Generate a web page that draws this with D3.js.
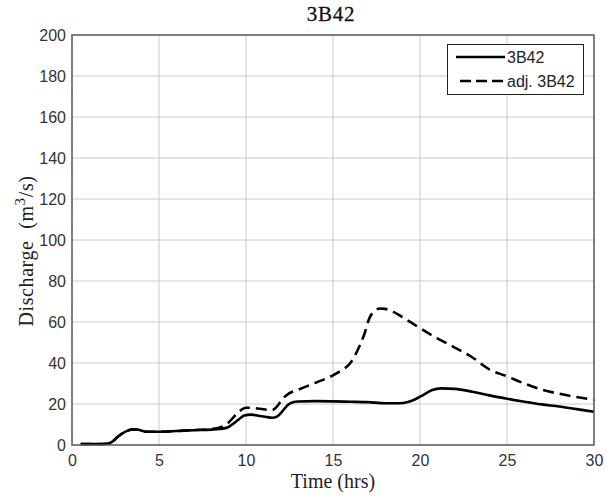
<!DOCTYPE html>
<html>
<head>
<meta charset="utf-8">
<script src="https://cdn.jsdelivr.net/npm/d3@7/dist/d3.min.js"></script>
<style>
  html, body { margin: 0; padding: 0; background: #fff; }
  svg { display: block; }
</style>
</head>
<body>
<svg id="chart" width="616" height="497"></svg>
<script>
// Simulated discharge hydrographs (m^3/s) at the outlet
const timeRaw = [0.5, 1, 1.5, 2, 2.3, 2.6, 2.9, 3.2, 3.5, 3.8, 4.3, 5, 6, 7, 8, 8.5, 9, 9.3, 9.6, 9.9,
  10.3, 10.7, 11.1, 11.5, 11.8, 12.1, 12.4, 12.7, 13, 14, 15, 16, 17, 18, 18.8, 19.3, 19.7, 20.2,
  20.7, 21.2, 22, 23, 24, 25, 26, 27, 28, 29, 30];
const flowRaw = [0.5, 0.5, 0.5, 0.6, 1.5, 3.8, 5.7, 7, 7.6, 7.4, 6.5, 6.5, 6.8, 7.2, 7.5, 7.8, 8.8, 10.6, 12.6, 14.4,
  14.8, 14.3, 13.8, 13.3, 14, 16.5, 19.5, 20.8, 21.2, 21.4, 21.3, 21.1, 20.9, 20.4, 20.4, 21, 22.2, 24.5,
  26.8, 27.6, 27.4, 26, 24.2, 22.6, 21.1, 19.8, 18.8, 17.5, 16.2];

const timeAdj = [0.5, 1, 1.5, 2, 2.3, 2.6, 2.9, 3.2, 3.5, 3.8, 4.3, 5, 6, 7, 8, 8.5, 9, 9.5, 10, 10.5,
  11, 11.5, 11.8, 12.1, 12.5, 13, 14, 15, 15.5, 16, 16.4, 16.8, 17.1, 17.4, 17.7, 18, 18.5, 19,
  20, 21, 22, 23, 24, 25, 26, 27, 28, 29, 30];
const flowAdj = [0.5, 0.5, 0.5, 0.6, 1.5, 3.8, 5.7, 7, 7.6, 7.4, 6.5, 6.5, 6.8, 7.3, 7.8, 8.5, 11, 15.5, 18.2, 18,
  17.4, 17, 19, 22.5, 25.3, 27, 30.4, 34, 36.5, 40, 46, 54, 62, 65.5, 66.6, 66.4, 64.8, 62.3,
  57, 52, 47.5, 42.8, 36.8, 33.5, 30, 27, 25, 23.4, 22];

const xTicks = [0, 5, 10, 15, 20, 25, 30];
const yTicks = [0, 20, 40, 60, 80, 100, 120, 140, 160, 180, 200];
const seriesNames = ["3B42", "adj. 3B42"];

const svg = d3.select("#chart");
const plot = { left: 72, right: 594, top: 35, bottom: 445 };

const x = d3.scaleLinear().domain([0, 30]).range([plot.left, plot.right]);
const y = d3.scaleLinear().domain([0, 200]).range([plot.bottom, plot.top]);

// grid
const grid = svg.append("g");
grid.selectAll("line.vx").data(xTicks.slice(1, -1)).join("line")
  .attr("x1", d => x(d)).attr("x2", d => x(d))
  .attr("y1", plot.top).attr("y2", plot.bottom)
  .attr("stroke", "#cacaca").attr("stroke-width", 1);
grid.selectAll("line.hy").data(yTicks.slice(1, -1)).join("line")
  .attr("y1", d => y(d)).attr("y2", d => y(d))
  .attr("x1", plot.left).attr("x2", plot.right)
  .attr("stroke", "#cacaca").attr("stroke-width", 1);

// tick labels via axes
const tickFont = "'Liberation Sans', Arial, sans-serif";
const xAxis = svg.append("g")
  .attr("transform", `translate(0,${plot.bottom})`)
  .call(d3.axisBottom(x).tickValues(xTicks).tickSize(0).tickPadding(9).tickFormat(d3.format("d")));
const yAxis = svg.append("g")
  .attr("transform", `translate(${plot.left},0)`)
  .call(d3.axisLeft(y).tickValues(yTicks).tickSize(0).tickPadding(6).tickFormat(d3.format("d")));
[xAxis, yAxis].forEach(a => {
  a.select(".domain").remove();
  a.selectAll("text").attr("font-family", tickFont).attr("font-size", 16).attr("fill", "#333");
});
xAxis.selectAll("text").attr("dy", "0.75em");

// lines
const line = d3.line().x(d => x(d[0])).y(d => y(d[1])).curve(d3.curveMonotoneX);
svg.append("path")
  .datum(d3.zip(timeAdj, flowAdj))
  .attr("d", line).attr("fill", "none")
  .attr("stroke", "#000").attr("stroke-width", 2.6)
  .attr("stroke-dasharray", "11,6");
svg.append("path")
  .datum(d3.zip(timeRaw, flowRaw))
  .attr("d", line).attr("fill", "none")
  .attr("stroke", "#000").attr("stroke-width", 2.6);

// frame
svg.append("rect")
  .attr("x", plot.left).attr("y", plot.top)
  .attr("width", plot.right - plot.left).attr("height", plot.bottom - plot.top)
  .attr("fill", "none").attr("stroke", "#555").attr("stroke-width", 1.5);

// legend
const lg = svg.append("g");
lg.append("rect").attr("x", 447.5).attr("y", 44.5).attr("width", 136).attr("height", 50)
  .attr("fill", "#fff").attr("stroke", "#222").attr("stroke-width", 1);
const legendRows = [{ y: 57, dash: null }, { y: 81, dash: "11,5" }];
legendRows.forEach((r, i) => {
  lg.append("line").attr("x1", i ? 460 : 456).attr("x2", 505).attr("y1", r.y).attr("y2", r.y)
    .attr("stroke", "#000").attr("stroke-width", 2.4)
    .attr("stroke-dasharray", r.dash);
  lg.append("text").attr("x", 507).attr("y", r.y + 6)
    .attr("font-family", tickFont).attr("font-size", 16).attr("fill", "#222")
    .text(seriesNames[i]);
});

// titles
const serif = "'Liberation Serif', 'Times New Roman', serif";
svg.append("text").attr("x", 331).attr("y", 21).attr("text-anchor", "middle")
  .attr("font-family", serif).attr("font-size", 21).attr("letter-spacing", 0.8)
  .attr("fill", "#111").attr("stroke", "#111").attr("stroke-width", 0.3)
  .text("3B42");
svg.append("text").attr("x", 333).attr("y", 488).attr("text-anchor", "middle")
  .attr("font-family", serif).attr("font-size", 20).attr("fill", "#222").text("Time (hrs)");
const yt = svg.append("text")
  .attr("transform", "translate(33,251) rotate(-90)")
  .attr("text-anchor", "middle")
  .attr("font-family", serif).attr("font-size", 20).attr("word-spacing", 6)
  .attr("letter-spacing", 0.6).attr("fill", "#222");
yt.append("tspan").text("Discharge (m");
yt.append("tspan").attr("dy", -8).attr("font-size", 15).text("3");
yt.append("tspan").attr("dy", 8).text("/s)");
</script>
</body>
</html>
